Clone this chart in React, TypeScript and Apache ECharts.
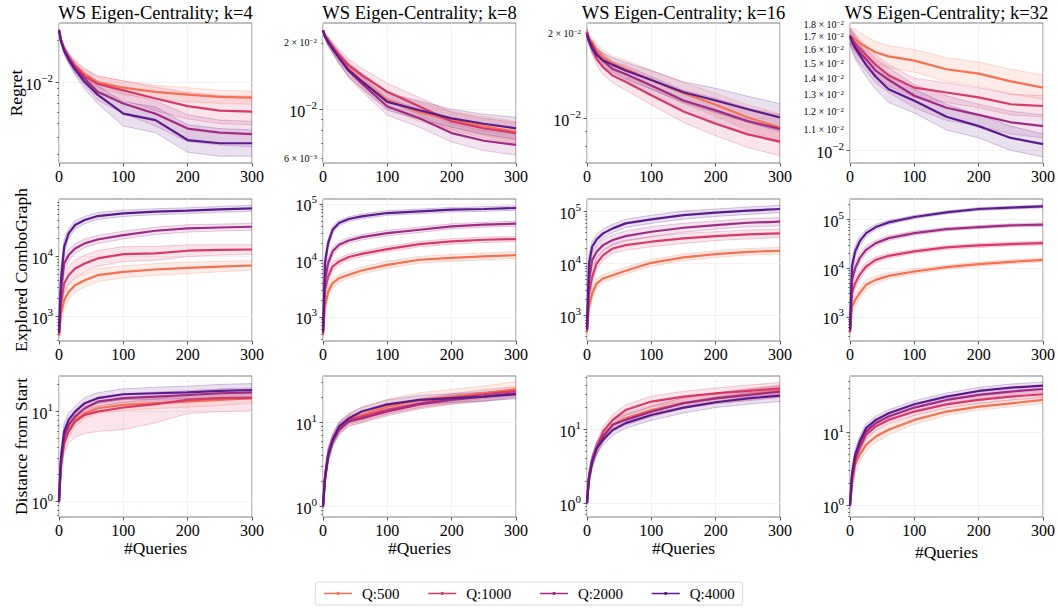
import React, { useEffect, useRef } from 'react';
import * as echarts from 'echarts';

const F = '"Liberation Serif", "Times New Roman", Times, serif';

const X = [0, 3, 8, 15, 25, 40, 60, 100, 150, 200, 250, 300];
const X_TICKS = [0, 100, 200, 300];
const SERIES_NAMES = ['Q:500', 'Q:1000', 'Q:2000', 'Q:4000'];
const COLORS = ['#f8704f', '#d9386a', '#a02a84', '#5b1a8e'];
const COL_TITLES = [
  'WS Eigen-Centrality; k=4',
  'WS Eigen-Centrality; k=8',
  'WS Eigen-Centrality; k=16',
  'WS Eigen-Centrality; k=32',
];
const ROW_LABELS = ['Regret', 'Explored ComboGraph', 'Distance from Start'];
const X_LABEL = '#Queries';

// ---------- Regret ----------
const regretK4Mean = [
  [0.0239, 0.0203, 0.0174, 0.0152, 0.0132, 0.0114, 0.0100, 0.0091, 0.0085, 0.0081, 0.0078, 0.0077],
  [0.0239, 0.0203, 0.0174, 0.0152, 0.0130, 0.0110, 0.0097, 0.0087, 0.0076, 0.0067, 0.0062, 0.0061],
  [0.0239, 0.0200, 0.0172, 0.0150, 0.0126, 0.0106, 0.0085, 0.0070, 0.0059, 0.0046, 0.0043, 0.0042],
  [0.0239, 0.0198, 0.0168, 0.0145, 0.0123, 0.0100, 0.0081, 0.0059, 0.0053, 0.0038, 0.0036, 0.0036],
];
const regretK4Hi = [
  [0.0239, 0.0209, 0.0183, 0.0161, 0.0143, 0.0125, 0.0110, 0.0102, 0.0095, 0.0091, 0.0087, 0.0086],
  [0.0239, 0.0209, 0.0183, 0.0162, 0.0142, 0.0124, 0.0111, 0.0102, 0.0092, 0.0084, 0.0080, 0.0079],
  [0.0239, 0.0206, 0.0181, 0.0160, 0.0138, 0.0118, 0.0098, 0.0083, 0.0073, 0.0058, 0.0053, 0.0052],
  [0.0239, 0.0204, 0.0177, 0.0155, 0.0135, 0.0112, 0.0094, 0.0072, 0.0066, 0.0049, 0.0046, 0.0045],
];
const regretK4Lo = [
  [0.0239, 0.0197, 0.0166, 0.0143, 0.0122, 0.0104, 0.0091, 0.0081, 0.0076, 0.0072, 0.0070, 0.0069],
  [0.0239, 0.0197, 0.0165, 0.0141, 0.0118, 0.0098, 0.0085, 0.0074, 0.0062, 0.0054, 0.0050, 0.0049],
  [0.0239, 0.0194, 0.0163, 0.0140, 0.0115, 0.0095, 0.0074, 0.0059, 0.0048, 0.0037, 0.0035, 0.0034],
  [0.0239, 0.0192, 0.0159, 0.0135, 0.0112, 0.0089, 0.0070, 0.0048, 0.0043, 0.0031, 0.0029, 0.0029],
];

const regretK8Mean = [
  [0.0228, 0.0216, 0.0204, 0.0190, 0.0173, 0.0153, 0.0135, 0.0110, 0.0097, 0.0089, 0.0084, 0.0079],
  [0.0228, 0.0216, 0.0206, 0.0192, 0.0176, 0.0158, 0.0143, 0.0120, 0.0103, 0.0088, 0.0082, 0.0078],
  [0.0228, 0.0214, 0.0202, 0.0188, 0.0171, 0.0149, 0.0131, 0.0103, 0.0091, 0.0078, 0.0072, 0.0069],
  [0.0228, 0.0214, 0.0201, 0.0188, 0.0171, 0.0150, 0.0134, 0.0108, 0.0099, 0.0091, 0.0086, 0.0082],
];
const regretK8Hi = [
  [0.0228, 0.0220, 0.0212, 0.0200, 0.0183, 0.0164, 0.0146, 0.0120, 0.0107, 0.0098, 0.0093, 0.0088],
  [0.0228, 0.0220, 0.0214, 0.0202, 0.0187, 0.0169, 0.0154, 0.0131, 0.0113, 0.0097, 0.0091, 0.0087],
  [0.0228, 0.0218, 0.0210, 0.0197, 0.0181, 0.0159, 0.0141, 0.0112, 0.0100, 0.0086, 0.0080, 0.0077],
  [0.0228, 0.0218, 0.0209, 0.0197, 0.0181, 0.0161, 0.0145, 0.0118, 0.0109, 0.0100, 0.0095, 0.0092],
];
const regretK8Lo = [
  [0.0228, 0.0212, 0.0196, 0.0181, 0.0163, 0.0143, 0.0125, 0.0101, 0.0088, 0.0081, 0.0076, 0.0071],
  [0.0228, 0.0212, 0.0198, 0.0183, 0.0166, 0.0148, 0.0132, 0.0110, 0.0094, 0.0080, 0.0074, 0.0070],
  [0.0228, 0.0210, 0.0194, 0.0179, 0.0161, 0.0139, 0.0121, 0.0094, 0.0083, 0.0071, 0.0065, 0.0062],
  [0.0228, 0.0210, 0.0193, 0.0179, 0.0161, 0.0140, 0.0124, 0.0099, 0.0090, 0.0083, 0.0077, 0.0073],
];

const regretK16Mean = [
  [0.0203, 0.0192, 0.0187, 0.0175, 0.0165, 0.0157, 0.0150, 0.0137, 0.0123, 0.0112, 0.0101, 0.0093],
  [0.0203, 0.0190, 0.0177, 0.0163, 0.0152, 0.0142, 0.0135, 0.0121, 0.0106, 0.0096, 0.0088, 0.0083],
  [0.0200, 0.0190, 0.0182, 0.0170, 0.0160, 0.0150, 0.0144, 0.0131, 0.0116, 0.0107, 0.0098, 0.0092],
  [0.0198, 0.0188, 0.0177, 0.0168, 0.0161, 0.0155, 0.0148, 0.0137, 0.0124, 0.0116, 0.0108, 0.0101],
];
const regretK16Hi = [
  [0.0209, 0.0198, 0.0194, 0.0184, 0.0175, 0.0166, 0.0161, 0.0148, 0.0134, 0.0123, 0.0112, 0.0104],
  [0.0209, 0.0196, 0.0184, 0.0171, 0.0161, 0.0151, 0.0144, 0.0131, 0.0116, 0.0106, 0.0098, 0.0093],
  [0.0206, 0.0196, 0.0189, 0.0179, 0.0170, 0.0159, 0.0154, 0.0141, 0.0126, 0.0118, 0.0109, 0.0103],
  [0.0204, 0.0194, 0.0184, 0.0176, 0.0171, 0.0164, 0.0158, 0.0148, 0.0135, 0.0128, 0.0120, 0.0113],
];
const regretK16Lo = [
  [0.0197, 0.0186, 0.0180, 0.0167, 0.0156, 0.0148, 0.0140, 0.0127, 0.0113, 0.0102, 0.0091, 0.0083],
  [0.0197, 0.0184, 0.0170, 0.0155, 0.0143, 0.0134, 0.0126, 0.0112, 0.0097, 0.0087, 0.0079, 0.0074],
  [0.0194, 0.0184, 0.0175, 0.0162, 0.0151, 0.0142, 0.0135, 0.0121, 0.0106, 0.0097, 0.0088, 0.0082],
  [0.0192, 0.0182, 0.0170, 0.0160, 0.0152, 0.0146, 0.0138, 0.0127, 0.0114, 0.0105, 0.0097, 0.0090],
];

const regretK32Mean = [
  [0.0171, 0.0170, 0.0168, 0.0165, 0.0162, 0.0158, 0.0155, 0.0152, 0.0146, 0.0143, 0.0138, 0.0134],
  [0.0171, 0.0168, 0.0165, 0.0161, 0.0156, 0.0149, 0.0142, 0.0134, 0.0131, 0.0128, 0.0124, 0.0123],
  [0.0171, 0.0168, 0.0163, 0.0158, 0.0153, 0.0145, 0.0139, 0.0129, 0.0122, 0.0118, 0.0114, 0.0112],
  [0.0170, 0.0166, 0.0161, 0.0156, 0.0149, 0.0141, 0.0133, 0.0126, 0.0117, 0.0112, 0.0106, 0.0103],
];
const regretK32Hi = [
  [0.0177, 0.0177, 0.0176, 0.0173, 0.0170, 0.0166, 0.0163, 0.0160, 0.0154, 0.0151, 0.0146, 0.0142],
  [0.0177, 0.0175, 0.0172, 0.0168, 0.0163, 0.0156, 0.0149, 0.0140, 0.0137, 0.0134, 0.0130, 0.0129],
  [0.0177, 0.0175, 0.0171, 0.0166, 0.0161, 0.0153, 0.0147, 0.0136, 0.0129, 0.0124, 0.0120, 0.0118],
  [0.0175, 0.0173, 0.0169, 0.0164, 0.0157, 0.0149, 0.0141, 0.0133, 0.0124, 0.0118, 0.0112, 0.0108],
];
const regretK32Lo = [
  [0.0165, 0.0163, 0.0160, 0.0157, 0.0154, 0.0150, 0.0147, 0.0144, 0.0138, 0.0135, 0.0130, 0.0127],
  [0.0165, 0.0161, 0.0158, 0.0154, 0.0149, 0.0142, 0.0135, 0.0128, 0.0125, 0.0122, 0.0118, 0.0117],
  [0.0165, 0.0161, 0.0155, 0.0150, 0.0145, 0.0137, 0.0131, 0.0122, 0.0115, 0.0112, 0.0108, 0.0106],
  [0.0165, 0.0159, 0.0153, 0.0148, 0.0141, 0.0133, 0.0125, 0.0119, 0.0110, 0.0106, 0.0100, 0.0097],
];

// ---------- Explored ComboGraph ----------
const exploredK4Mean = [
  [470, 1110, 1850, 2540, 3290, 3980, 4820, 5480, 5990, 6390, 6700, 6990],
  [500, 1630, 3500, 4820, 6230, 7550, 9150, 10800, 11100, 12300, 12700, 12900],
  [520, 2710, 7550, 10400, 13400, 16300, 18900, 22400, 26400, 28900, 29900, 30800],
  [540, 3980, 14300, 23900, 32900, 39800, 46400, 51400, 54800, 56900, 59900, 62300],
];
const exploredK4Hi = [
  [517, 1665, 2590, 3430, 4280, 5170, 6170, 6850, 7490, 7990, 8170, 8390],
  [550, 2450, 5080, 6750, 8720, 10400, 12400, 14400, 14400, 15400, 15500, 15500],
  [572, 4070, 10190, 13000, 16080, 19230, 22110, 25980, 30360, 33240, 34090, 35110],
  [594, 6370, 19300, 28700, 38500, 45800, 52900, 58100, 61400, 63700, 67100, 69800],
];
const exploredK4Lo = [
  [427, 740, 1320, 1880, 2530, 3060, 3770, 4380, 4790, 5110, 5490, 5830],
  [455, 1090, 2410, 3440, 4450, 5470, 6780, 8120, 8540, 9840, 10400, 10750],
  [473, 1807, 5593, 8320, 11170, 13810, 16150, 19310, 22960, 25130, 26230, 27020],
  [491, 2490, 10600, 19900, 28100, 34600, 40700, 45500, 48900, 50800, 53500, 55600],
];

const exploredK8Mean = [
  [480, 1520, 2820, 3960, 4860, 5570, 6640, 8380, 10300, 11100, 11800, 12400],
  [500, 3010, 5200, 7820, 9600, 11500, 13100, 15900, 19500, 21700, 23300, 23900],
  [520, 4540, 8980, 14500, 19000, 22600, 25900, 30500, 35000, 40200, 43000, 44800],
  [540, 8980, 20300, 35000, 46000, 54200, 60400, 69200, 74100, 79200, 81500, 84900],
];
const exploredK8Hi = [
  [528, 2130, 3530, 4750, 5730, 6460, 7640, 9640, 11800, 12800, 13600, 14300],
  [550, 4210, 6500, 9380, 11000, 13000, 14700, 17800, 21800, 24300, 26100, 26500],
  [572, 6360, 11200, 17100, 21700, 25300, 29000, 34200, 39200, 44600, 47700, 49700],
  [594, 12600, 24400, 40300, 51500, 59600, 66400, 76100, 81500, 87100, 89700, 93400],
];
const exploredK8Lo = [
  [436, 1090, 2260, 3300, 4120, 4800, 5770, 7290, 8960, 9650, 10300, 10800],
  [455, 2150, 4160, 6520, 8350, 10200, 11700, 14200, 17400, 19400, 20800, 21500],
  [473, 3240, 7180, 12300, 16700, 20200, 23100, 27200, 31300, 36200, 38700, 40400],
  [491, 6410, 16900, 30400, 41100, 49300, 54900, 62900, 67400, 72000, 74100, 77200],
];

const exploredK16Mean = [
  [480, 1450, 2630, 4100, 5130, 5940, 7210, 10300, 13100, 15200, 16800, 17600],
  [500, 2630, 5520, 10000, 14500, 19500, 22600, 26300, 30500, 33800, 36400, 38100],
  [520, 4760, 11600, 16800, 22600, 28300, 33800, 41000, 49000, 55200, 61200, 64000],
  [540, 10000, 21000, 29200, 38100, 47600, 59500, 71100, 86100, 95600, 104400, 112700],
];
const exploredK16Hi = [
  [528, 2030, 3420, 5130, 6160, 7010, 8440, 11900, 15200, 17600, 19500, 20400],
  [550, 3950, 7450, 13000, 18100, 24400, 28300, 32900, 38100, 41200, 44400, 45700],
  [572, 7140, 15700, 21800, 28900, 35400, 42300, 51300, 59800, 66200, 73400, 76800],
  [594, 15000, 27300, 36500, 46500, 57100, 71400, 85300, 103300, 112800, 123200, 133000],
];
const exploredK16Lo = [
  [436, 1040, 2020, 3280, 4280, 5030, 6160, 8880, 11300, 13100, 14500, 15200],
  [455, 1750, 4090, 7690, 11600, 15600, 18100, 21000, 24400, 27700, 29800, 31800],
  [473, 3170, 8590, 12900, 17700, 22600, 27000, 32800, 40200, 46000, 51000, 53300],
  [491, 6670, 16200, 23400, 31200, 39700, 49600, 59300, 71800, 81000, 88500, 95500],
];

const exploredK32Mean = [
  [480, 1630, 2230, 3060, 4550, 5750, 6960, 8550, 10500, 12100, 13500, 14800],
  [500, 3060, 4920, 7300, 10800, 14800, 17900, 22000, 26600, 29200, 31100, 32600],
  [520, 5750, 10000, 16000, 23800, 32600, 41300, 52400, 63200, 69500, 75300, 77700],
  [540, 10800, 22000, 35300, 52400, 69500, 86800, 111700, 139300, 163000, 173600, 184900],
];
const exploredK32Hi = [
  [528, 2280, 3010, 3980, 5690, 6900, 8000, 9580, 11550, 13300, 14850, 16300],
  [550, 4280, 6400, 9130, 13000, 17000, 20000, 24200, 29300, 32100, 34200, 35900],
  [572, 8050, 13000, 20000, 28600, 37500, 46300, 57600, 68300, 75100, 81300, 83900],
  [594, 15100, 28600, 44100, 61800, 79200, 95500, 120600, 149100, 174400, 185800, 197800],
];
const exploredK32Lo = [
  [436, 1160, 1650, 2350, 3640, 4790, 6050, 7630, 9550, 11000, 12300, 13450],
  [455, 2190, 3780, 5840, 9000, 12900, 16000, 20000, 24200, 26500, 28300, 29600],
  [473, 4110, 7690, 12800, 19800, 28300, 36900, 47600, 58500, 64400, 69700, 71900],
  [491, 7710, 16900, 28200, 44400, 61000, 78900, 103400, 130200, 152300, 162200, 172800],
];

// ---------- Distance from Start ----------
const distanceK4Mean = [
  [1.0, 2.55, 4.64, 6.25, 8.07, 9.58, 10.9, 11.9, 12.4, 12.9, 13.5, 14.1],
  [1.0, 2.55, 4.45, 5.99, 7.74, 9.18, 10.0, 11.1, 12.1, 13.5, 14.1, 14.1],
  [1.0, 2.78, 5.27, 7.11, 8.80, 10.9, 12.9, 14.1, 14.7, 15.3, 16.0, 16.4],
  [1.0, 3.03, 5.99, 8.07, 10.0, 12.4, 14.1, 15.6, 16.0, 16.4, 17.0, 17.4],
];
const distanceK4Hi = [
  [1.05, 3.32, 5.80, 7.50, 9.52, 11.0, 12.5, 13.7, 14.3, 14.8, 15.5, 16.2],
  [1.05, 3.32, 5.56, 7.19, 9.13, 10.6, 11.5, 12.8, 13.9, 15.5, 16.2, 16.2],
  [1.05, 3.61, 6.59, 8.53, 10.1, 12.3, 14.4, 15.8, 16.5, 17.1, 17.9, 18.4],
  [1.05, 3.94, 7.49, 9.68, 11.5, 14.3, 16.2, 17.9, 18.7, 19.2, 20.1, 20.5],
];
const distanceK4Lo = [
  [0.95, 1.96, 3.71, 5.21, 6.84, 8.33, 9.48, 10.3, 10.8, 11.2, 11.7, 12.3],
  [0.95, 1.9, 3.4, 4.4, 5.2, 5.7, 6.0, 6.3, 7.5, 9.5, 10.0, 10.2],
  [0.95, 2.14, 4.22, 5.93, 7.65, 9.65, 11.5, 12.6, 13.1, 13.7, 14.3, 14.6],
  [0.95, 2.33, 4.79, 6.73, 8.70, 10.8, 12.3, 13.6, 13.7, 14.0, 14.4, 14.7],
];

const distanceK8Mean = [
  [1.0, 2.17, 4.10, 6.18, 8.49, 10.7, 12.2, 15.3, 18.4, 20.1, 22.1, 24.8],
  [1.0, 2.17, 4.10, 6.18, 8.49, 10.7, 11.7, 14.0, 16.8, 19.3, 21.5, 23.5],
  [1.0, 2.07, 3.92, 5.90, 8.11, 10.2, 11.1, 13.4, 16.3, 18.4, 20.1, 22.1],
  [1.0, 2.17, 4.10, 6.18, 8.89, 11.1, 13.4, 16.3, 18.4, 19.3, 20.1, 21.5],
];
const distanceK8Hi = [
  [1.05, 2.71, 4.92, 7.29, 10.0, 12.8, 14.9, 18.7, 22.4, 24.5, 27.0, 30.3],
  [1.05, 2.71, 4.92, 7.11, 9.76, 12.1, 13.2, 15.8, 19.0, 21.8, 24.3, 26.6],
  [1.05, 2.59, 4.70, 6.79, 9.33, 11.5, 12.5, 15.1, 18.4, 20.8, 22.7, 25.0],
  [1.05, 2.71, 4.92, 7.11, 10.2, 12.5, 15.1, 18.4, 20.8, 21.8, 22.7, 24.3],
];
const distanceK8Lo = [
  [0.95, 1.74, 3.42, 5.24, 7.19, 8.92, 10.0, 12.5, 15.1, 16.5, 18.1, 20.3],
  [0.95, 1.74, 3.42, 5.37, 7.38, 9.47, 10.4, 12.4, 14.9, 17.1, 19.0, 20.8],
  [0.95, 1.66, 3.27, 5.13, 7.05, 9.03, 9.82, 11.9, 14.4, 16.3, 17.8, 19.6],
  [0.95, 1.74, 3.42, 5.37, 7.73, 9.82, 11.9, 14.4, 16.3, 17.1, 17.8, 19.0],
];

const distanceK16Mean = [
  [1.0, 2.18, 3.66, 5.53, 7.96, 11.5, 14.1, 18.2, 22.5, 26.2, 29.7, 33.0],
  [1.0, 2.18, 3.66, 5.53, 9.30, 13.4, 18.2, 23.7, 27.6, 30.6, 33.0, 35.8],
  [1.0, 2.18, 3.66, 5.53, 7.96, 11.5, 13.4, 17.3, 22.5, 26.2, 29.1, 32.3],
  [1.0, 2.18, 3.66, 5.53, 7.18, 9.79, 12.1, 15.6, 19.6, 23.2, 26.2, 28.5],
];
const distanceK16Hi = [
  [1.05, 2.73, 4.39, 6.64, 9.39, 13.6, 16.6, 21.5, 26.6, 30.9, 35.6, 39.6],
  [1.05, 2.73, 4.39, 6.64, 11.0, 15.8, 21.5, 28.0, 32.6, 36.1, 39.6, 43.0],
  [1.05, 2.73, 4.39, 6.64, 9.39, 13.6, 15.8, 20.4, 26.6, 30.9, 34.9, 38.8],
  [1.05, 2.73, 4.39, 6.64, 8.47, 11.6, 14.3, 18.4, 23.1, 27.4, 31.4, 34.2],
];
const distanceK16Lo = [
  [0.95, 1.74, 3.05, 4.61, 6.75, 9.75, 11.9, 15.4, 19.1, 22.2, 24.8, 27.5],
  [0.95, 1.74, 3.05, 4.61, 7.88, 11.4, 15.4, 20.1, 23.4, 25.9, 27.5, 29.8],
  [0.95, 1.74, 3.05, 4.61, 6.75, 9.75, 11.4, 14.7, 19.1, 22.2, 24.3, 26.9],
  [0.95, 1.74, 3.05, 4.61, 6.08, 8.30, 10.3, 13.2, 16.6, 19.7, 21.8, 23.8],
];

const distanceK32Mean = [
  [1.0, 1.92, 3.61, 4.94, 6.78, 8.81, 10.9, 14.9, 19.4, 22.7, 25.2, 28.0],
  [1.0, 2.25, 4.01, 6.10, 9.30, 12.1, 14.9, 19.4, 24.4, 28.0, 31.1, 33.5],
  [1.0, 2.37, 4.45, 6.78, 10.3, 13.4, 16.6, 22.0, 28.0, 32.8, 36.5, 39.6],
  [1.0, 2.63, 4.94, 7.53, 11.5, 14.9, 18.4, 24.4, 31.1, 37.2, 41.3, 44.1],
];
const distanceK32Hi = [
  [1.05, 2.59, 4.69, 6.18, 8.27, 10.6, 12.9, 17.1, 21.9, 25.4, 28.2, 31.4],
  [1.05, 2.93, 4.81, 7.20, 10.7, 13.7, 16.7, 21.7, 27.3, 31.4, 34.8, 37.5],
  [1.05, 3.08, 5.34, 8.0, 11.8, 15.1, 18.6, 24.6, 31.4, 36.7, 40.9, 44.4],
  [1.05, 3.42, 5.93, 8.89, 13.2, 16.8, 20.6, 27.3, 34.8, 41.7, 46.3, 49.4],
];
const distanceK32Lo = [
  [0.95, 1.42, 2.78, 3.95, 5.56, 7.34, 9.24, 13.0, 17.2, 20.3, 22.5, 25.0],
  [0.95, 1.73, 3.34, 5.17, 8.09, 10.7, 13.3, 17.3, 21.8, 25.0, 27.8, 29.9],
  [0.95, 1.82, 3.71, 5.75, 8.96, 11.9, 14.8, 19.6, 25.0, 29.3, 32.6, 35.4],
  [0.95, 2.02, 4.12, 6.38, 10.0, 13.2, 16.4, 21.8, 27.8, 33.2, 36.9, 39.4],
];

// y-axis ranges (data units) and labelled tick values per panel
const Y_RANGES = [
  [0.00259, 0.0268], [0.00571, 0.0246], [0.00697, 0.0218], [0.00943, 0.01811],
  [388, 89100], [375, 122600], [318, 175800], [321, 261600],
  [0.67, 24.9], [0.748, 35.4], [0.647, 52.6], [0.692, 59.7],
];
const Y_LABELS = [
  [0.01], [0.02, 0.01, 0.006], [0.02, 0.01],
  [0.018, 0.017, 0.016, 0.015, 0.014, 0.013, 0.012, 0.011, 0.01],
  [1e3, 1e4], [1e3, 1e4, 1e5], [1e3, 1e4, 1e5], [1e3, 1e4, 1e5],
  [1, 10], [1, 10], [1, 10], [1, 10],
];

const PANELS = [
  [regretK4Mean, regretK4Lo, regretK4Hi],
  [regretK8Mean, regretK8Lo, regretK8Hi],
  [regretK16Mean, regretK16Lo, regretK16Hi],
  [regretK32Mean, regretK32Lo, regretK32Hi],
  [exploredK4Mean, exploredK4Lo, exploredK4Hi],
  [exploredK8Mean, exploredK8Lo, exploredK8Hi],
  [exploredK16Mean, exploredK16Lo, exploredK16Hi],
  [exploredK32Mean, exploredK32Lo, exploredK32Hi],
  [distanceK4Mean, distanceK4Lo, distanceK4Hi],
  [distanceK8Mean, distanceK8Lo, distanceK8Hi],
  [distanceK16Mean, distanceK16Lo, distanceK16Hi],
  [distanceK32Mean, distanceK32Lo, distanceK32Hi],
];

// layout
const COL_LEFT = [59, 323, 587, 850];
const COL_W = 193;
const ROW_TOP = [23, 199, 376];
const ROW_H = [140, 142, 141];
const ROW_LABEL_X = [15.5, 20.5, 20.5];
const XLABEL_Y = [548, 548, 548, 552];

const lg = (v: number) => Math.log10(v);
const EXP = (k: number) => (k < 0 ? '\u2212' : '') + Math.abs(k);

function labelFmt(val: number) {
  const r = Math.round(val);
  if (Math.abs(val - r) < 1e-6) return `{b|10}{bs|${EXP(r)}}`;
  const k = Math.floor(val);
  const m = Math.pow(10, val - k);
  const ms = String(Math.round(m * 10) / 10);
  return `{m|${ms} \u00d7 10}{ms|${EXP(k)}}`;
}

function bandRenderer(color: string) {
  return (params: any, api: any) => {
    if (params.dataIndexInside !== 0) return null;
    const n = params.dataInsideLength;
    const top: number[][] = [];
    const bot: number[][] = [];
    for (let j = 0; j < n; j++) {
      const x = api.value(0, j);
      top.push(api.coord([x, api.value(2, j)]));
      bot.push(api.coord([x, api.value(1, j)]));
    }
    return {
      type: 'polygon',
      shape: { points: top.concat(bot.reverse()) },
      style: { fill: color, opacity: 0.13, stroke: 'none' },
      silent: true,
    };
  };
}

function buildOption() {
  const grid: any[] = [];
  const xAxis: any[] = [];
  const yAxis: any[] = [];
  const bandSeries: any[] = [];
  const edgeSeries: any[] = [];
  const meanSeries: any[] = [];

  PANELS.forEach((panel, i) => {
    const r = Math.floor(i / 4);
    const c = i % 4;
    const [mean, lo, hi] = panel;
    grid.push({
      left: COL_LEFT[c], top: ROW_TOP[r], width: COL_W, height: ROW_H[r],
      show: true, borderColor: '#808080', borderWidth: 1, backgroundColor: 'transparent',
      containLabel: false, outerBoundsMode: 'none',
    });
    xAxis.push({
      type: 'value', gridIndex: i, min: 0, max: 300, interval: 100, position: 'bottom',
      axisLine: { show: false, onZero: false },
      axisTick: { show: true, length: 3.5, lineStyle: { color: '#333', width: 0.8 }, customValues: X_TICKS },
      axisLabel: { fontFamily: F, fontSize: 16, color: '#000', margin: 5, customValues: X_TICKS, showMinLabel: true, showMaxLabel: true },
      splitLine: { show: true, lineStyle: { color: '#efefef', width: 0.8 } },
    });
    const [ymin, ymax] = Y_RANGES[i];
    const lmin = lg(ymin);
    const lmax = lg(ymax);
    const majors: number[] = [];
    for (let k = Math.ceil(lmin); k <= Math.floor(lmax); k++) majors.push(k);
    const minors: number[] = [];
    for (let k = Math.floor(lmin); k <= Math.floor(lmax); k++) {
      for (let m = 2; m <= 9; m++) {
        const v = k + lg(m);
        if (v >= lmin && v <= lmax) minors.push(v);
      }
    }
    yAxis.push({
      type: 'value', gridIndex: i, position: 'left', min: lmin, max: lmax,
      axisLine: { show: false, onZero: false },
      axisTick: { show: true, length: 3.5, lineStyle: { color: '#333', width: 0.8 }, customValues: majors },
      axisLabel: {
        customValues: Y_LABELS[i].map(lg), formatter: labelFmt, margin: 6, color: '#000',
        showMinLabel: true, showMaxLabel: true, hideOverlap: false,
        rich: {
          b: { fontFamily: F, fontSize: 16, color: '#000', lineHeight: 20, verticalAlign: 'bottom' },
          bs: { fontFamily: F, fontSize: 11, color: '#000', lineHeight: 12, verticalAlign: 'top' },
          m: { fontFamily: F, fontSize: 10, color: '#000', lineHeight: 10, verticalAlign: 'bottom' },
          ms: { fontFamily: F, fontSize: 7, color: '#000', lineHeight: 6, verticalAlign: 'top' },
        },
      },
      splitLine: { show: true, lineStyle: { color: '#efefef', width: 0.8 } },
    });
    yAxis.push({
      type: 'value', gridIndex: i, position: 'left', min: lmin, max: lmax,
      axisLine: { show: false, onZero: false },
      axisTick: { show: true, length: 2, lineStyle: { color: '#333', width: 0.6 }, customValues: minors },
      axisLabel: { show: false },
      splitLine: { show: false },
    });

    for (let s = 0; s < 4; s++) {
      const col = COLORS[s];
      const edge = { width: 0.8, color: col, opacity: 0.3 };
      bandSeries.push({
        type: 'custom', name: `${SERIES_NAMES[s]} band`, xAxisIndex: i, yAxisIndex: 2 * i,
        data: X.map((x, j) => [x, lg(lo[s][j]), lg(hi[s][j])]),
        encode: { x: 0, y: [1, 2] },
        renderItem: bandRenderer(col), silent: true, clip: true, z: 1,
      });
      edgeSeries.push({
        type: 'line', name: `${SERIES_NAMES[s]} lower`, xAxisIndex: i, yAxisIndex: 2 * i,
        data: X.map((x, j) => [x, lg(lo[s][j])]),
        symbol: 'none', showSymbol: false, silent: true, lineStyle: edge, z: 2,
      });
      edgeSeries.push({
        type: 'line', name: `${SERIES_NAMES[s]} upper`, xAxisIndex: i, yAxisIndex: 2 * i,
        data: X.map((x, j) => [x, lg(hi[s][j])]),
        symbol: 'none', showSymbol: false, silent: true, lineStyle: edge, z: 2,
      });
      meanSeries.push({
        type: 'line', name: SERIES_NAMES[s], xAxisIndex: i, yAxisIndex: 2 * i,
        data: X.map((x, j) => [x, lg(mean[s][j])]),
        symbol: 'circle', symbolSize: 3, showSymbol: false,
        lineStyle: { width: 2.2, color: col }, itemStyle: { color: col }, z: 3,
      });
    }
  });

  const graphic: any[] = [];
  COL_TITLES.forEach((t, c) => {
    graphic.push({
      type: 'text', x: COL_LEFT[c] + COL_W / 2, y: 12.5,
      style: { text: t, fontFamily: F, fontSize: 18.5, fill: '#000', align: 'center', verticalAlign: 'middle', textAlign: 'center', textVerticalAlign: 'middle' },
    });
    graphic.push({
      type: 'text', x: COL_LEFT[c] + COL_W / 2, y: XLABEL_Y[c],
      style: { text: X_LABEL, fontFamily: F, fontSize: 17.5, fill: '#000', align: 'center', verticalAlign: 'middle', textAlign: 'center', textVerticalAlign: 'middle' },
    });
  });
  ROW_LABELS.forEach((t, r) => {
    graphic.push({
      type: 'text', x: ROW_LABEL_X[r], y: ROW_TOP[r] + ROW_H[r] / 2, rotation: Math.PI / 2,
      style: { text: t, fontFamily: F, fontSize: 17.5, fill: '#000', align: 'center', verticalAlign: 'middle', textAlign: 'center', textVerticalAlign: 'middle' },
    });
  });

  return {
    animation: false,
    backgroundColor: '#ffffff',
    grid, xAxis, yAxis,
    series: [...bandSeries, ...edgeSeries, ...meanSeries],
    graphic,
    legend: {
      data: SERIES_NAMES, left: 'center', top: 582,
      itemWidth: 28, itemHeight: 4, itemGap: 28, padding: [4, 8],
      borderColor: '#d9d9d9', borderWidth: 1, borderRadius: 3,
      lineStyle: { width: 1.5 },
      textStyle: { fontFamily: F, fontSize: 15, color: '#000', padding: [0, 0, 0, 5] },
    },
  };
}

export default function App() {
  const ref = useRef<HTMLDivElement>(null);
  useEffect(() => {
    if (!ref.current) return;
    const chart = echarts.init(ref.current, null, { renderer: 'svg' });
    chart.setOption(buildOption() as any);
    return () => chart.dispose();
  }, []);
  return (
    <div
      ref={ref}
      style={{ position: 'fixed', left: 0, top: 0, width: 1058, height: 608, background: '#fff' }}
    />
  );
}
